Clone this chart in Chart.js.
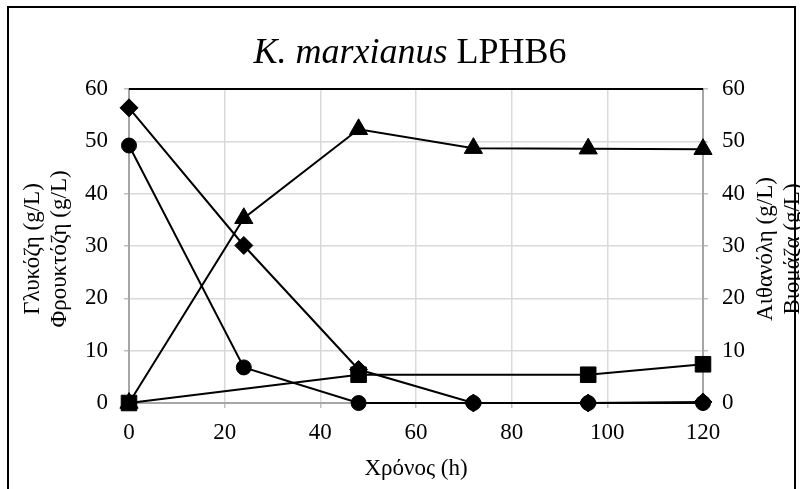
<!DOCTYPE html>
<html>
<head>
<meta charset="utf-8">
<script src="https://cdn.jsdelivr.net/npm/chart.js@4.4.1/dist/chart.umd.min.js"></script>
<style>
  html, body { margin: 0; padding: 0; background: #fff; }
  #wrap { width: 800px; height: 489px; position: relative; }
</style>
</head>
<body>
<div id="wrap"><canvas id="chart"></canvas></div>
<script>
const timeHours = [0, 24, 48, 72, 96, 120];
const glucose = [49.2, 6.8, 0, 0, 0, 0];
const fructose = [56.4, 30.1, 6.4, 0, 0, 0.2];
const ethanol = [0, 35.3, 52.3, 48.7, 48.6, 48.5];
const biomass = [0, null, 5.4, null, 5.4, 7.4];

const yTicks = [0, 10, 20, 30, 40, 50, 60];
const xTicks = [0, 20, 40, 60, 80, 100, 120];

const serif = '"Liberation Serif", "Times New Roman", serif';
const tickFont = { family: serif, size: 23 };

function points(values) {
    return timeHours.map((t, i) => ({ x: t, y: values[i] }));
}

function series(label, values, style, radius, axis, order) {
    return {
        label: label,
        data: points(values),
        yAxisID: axis,
        borderColor: "#000",
        backgroundColor: "#000",
        borderWidth: 2,
        pointStyle: style,
        pointRadius: radius,
        pointHoverRadius: radius,
        pointBackgroundColor: "#000",
        pointBorderColor: "#000",
        pointBorderWidth: 1,
        tension: 0,
        spanGaps: true,
        clip: false,
        order: order
    };
}

// titles, outer frame and the black top line
const textPlugin = {
    id: "texts",
    afterDraw(chart) {
        const ctx = chart.ctx;
        const area = chart.chartArea;
        const midY = (area.top + area.bottom) / 2;
        ctx.save();

        ctx.strokeStyle = "#000";
        ctx.lineWidth = 2;
        ctx.strokeRect(8, 7, 787, 520);

        ctx.beginPath();
        ctx.moveTo(area.left, area.top);
        ctx.lineTo(area.right, area.top);
        ctx.stroke();

        ctx.fillStyle = "#000";
        ctx.textBaseline = "alphabetic";
        ctx.textAlign = "left";
        const italicPart = "K. marxianus";
        const normalPart = " LPHB6";
        ctx.font = "italic 36px " + serif;
        const w1 = ctx.measureText(italicPart).width;
        ctx.font = "36px " + serif;
        const w2 = ctx.measureText(normalPart).width;
        const startX = 410 - (w1 + w2) / 2;
        ctx.font = "italic 36px " + serif;
        ctx.fillText(italicPart, startX, 63);
        ctx.font = "36px " + serif;
        ctx.fillText(normalPart, startX + w1, 63);

        ctx.font = "23px " + serif;
        ctx.textAlign = "center";
        ctx.textBaseline = "middle";
        ctx.fillText("Χρόνος (h)", (area.left + area.right) / 2, 469);

        const sideTitles = [
            ["Γλυκόζη (g/L)", 33],
            ["Φρουκτόζη (g/L)", 60],
            ["Αιθανόλη (g/L)", 766],
            ["Βιομάζα (g/L)", 793]
        ];
        sideTitles.forEach(([text, x]) => {
            ctx.save();
            ctx.translate(x, midY + 3);
            ctx.rotate(-Math.PI / 2);
            ctx.fillText(text, 0, 0);
            ctx.restore();
        });

        ctx.restore();
    }
};

const ctx = document.getElementById("chart").getContext("2d");

new Chart(ctx, {
    type: "line",
    data: {
        datasets: [
            series("Βιομάζα", biomass, "rect", 11, "y2", 0),
            series("Φρουκτόζη", fructose, "rectRot", 9, "y", 1),
            series("Γλυκόζη", glucose, "circle", 7.5, "y", 2),
            series("Αιθανόλη", ethanol, "triangle", 10.5, "y2", 3)
        ]
    },
    options: {
        responsive: true,
        maintainAspectRatio: false,
        animation: false,
        layout: { padding: { top: 89, left: 0, right: 0, bottom: 0 } },
        plugins: {
            legend: { display: false },
            title: { display: false },
            tooltip: { enabled: false }
        },
        scales: {
            x: {
                type: "linear",
                min: 0,
                max: 120,
                afterBuildTicks: (scale) => { scale.ticks = xTicks.map(v => ({ value: v })); },
                ticks: { font: tickFont, color: "#000", padding: 11 },
                grid: { color: "#d9d9d9", lineWidth: 1.5, tickLength: 5, tickColor: "#bfbfbf" },
                border: { color: "#a6a6a6", width: 2 },
                afterFit: (scale) => { scale.height = 86; }
            },
            y: {
                position: "left",
                min: 0,
                max: 60,
                afterBuildTicks: (scale) => { scale.ticks = yTicks.map(v => ({ value: v })); },
                ticks: { font: tickFont, color: "#000", padding: 16 },
                grid: { color: "#d9d9d9", lineWidth: 1.5, tickLength: 5, tickColor: "#bfbfbf" },
                border: { color: "#a6a6a6", width: 2 },
                afterFit: (scale) => { scale.width = 129; }
            },
            y2: {
                position: "right",
                min: 0,
                max: 60,
                afterBuildTicks: (scale) => { scale.ticks = yTicks.map(v => ({ value: v })); },
                ticks: { font: tickFont, color: "#000", padding: 14 },
                grid: { drawOnChartArea: false, tickLength: 5, tickColor: "#bfbfbf", lineWidth: 1.5 },
                border: { color: "#a6a6a6", width: 2 },
                afterFit: (scale) => { scale.width = 97; }
            }
        }
    },
    plugins: [textPlugin]
});
</script>
</body>
</html>
